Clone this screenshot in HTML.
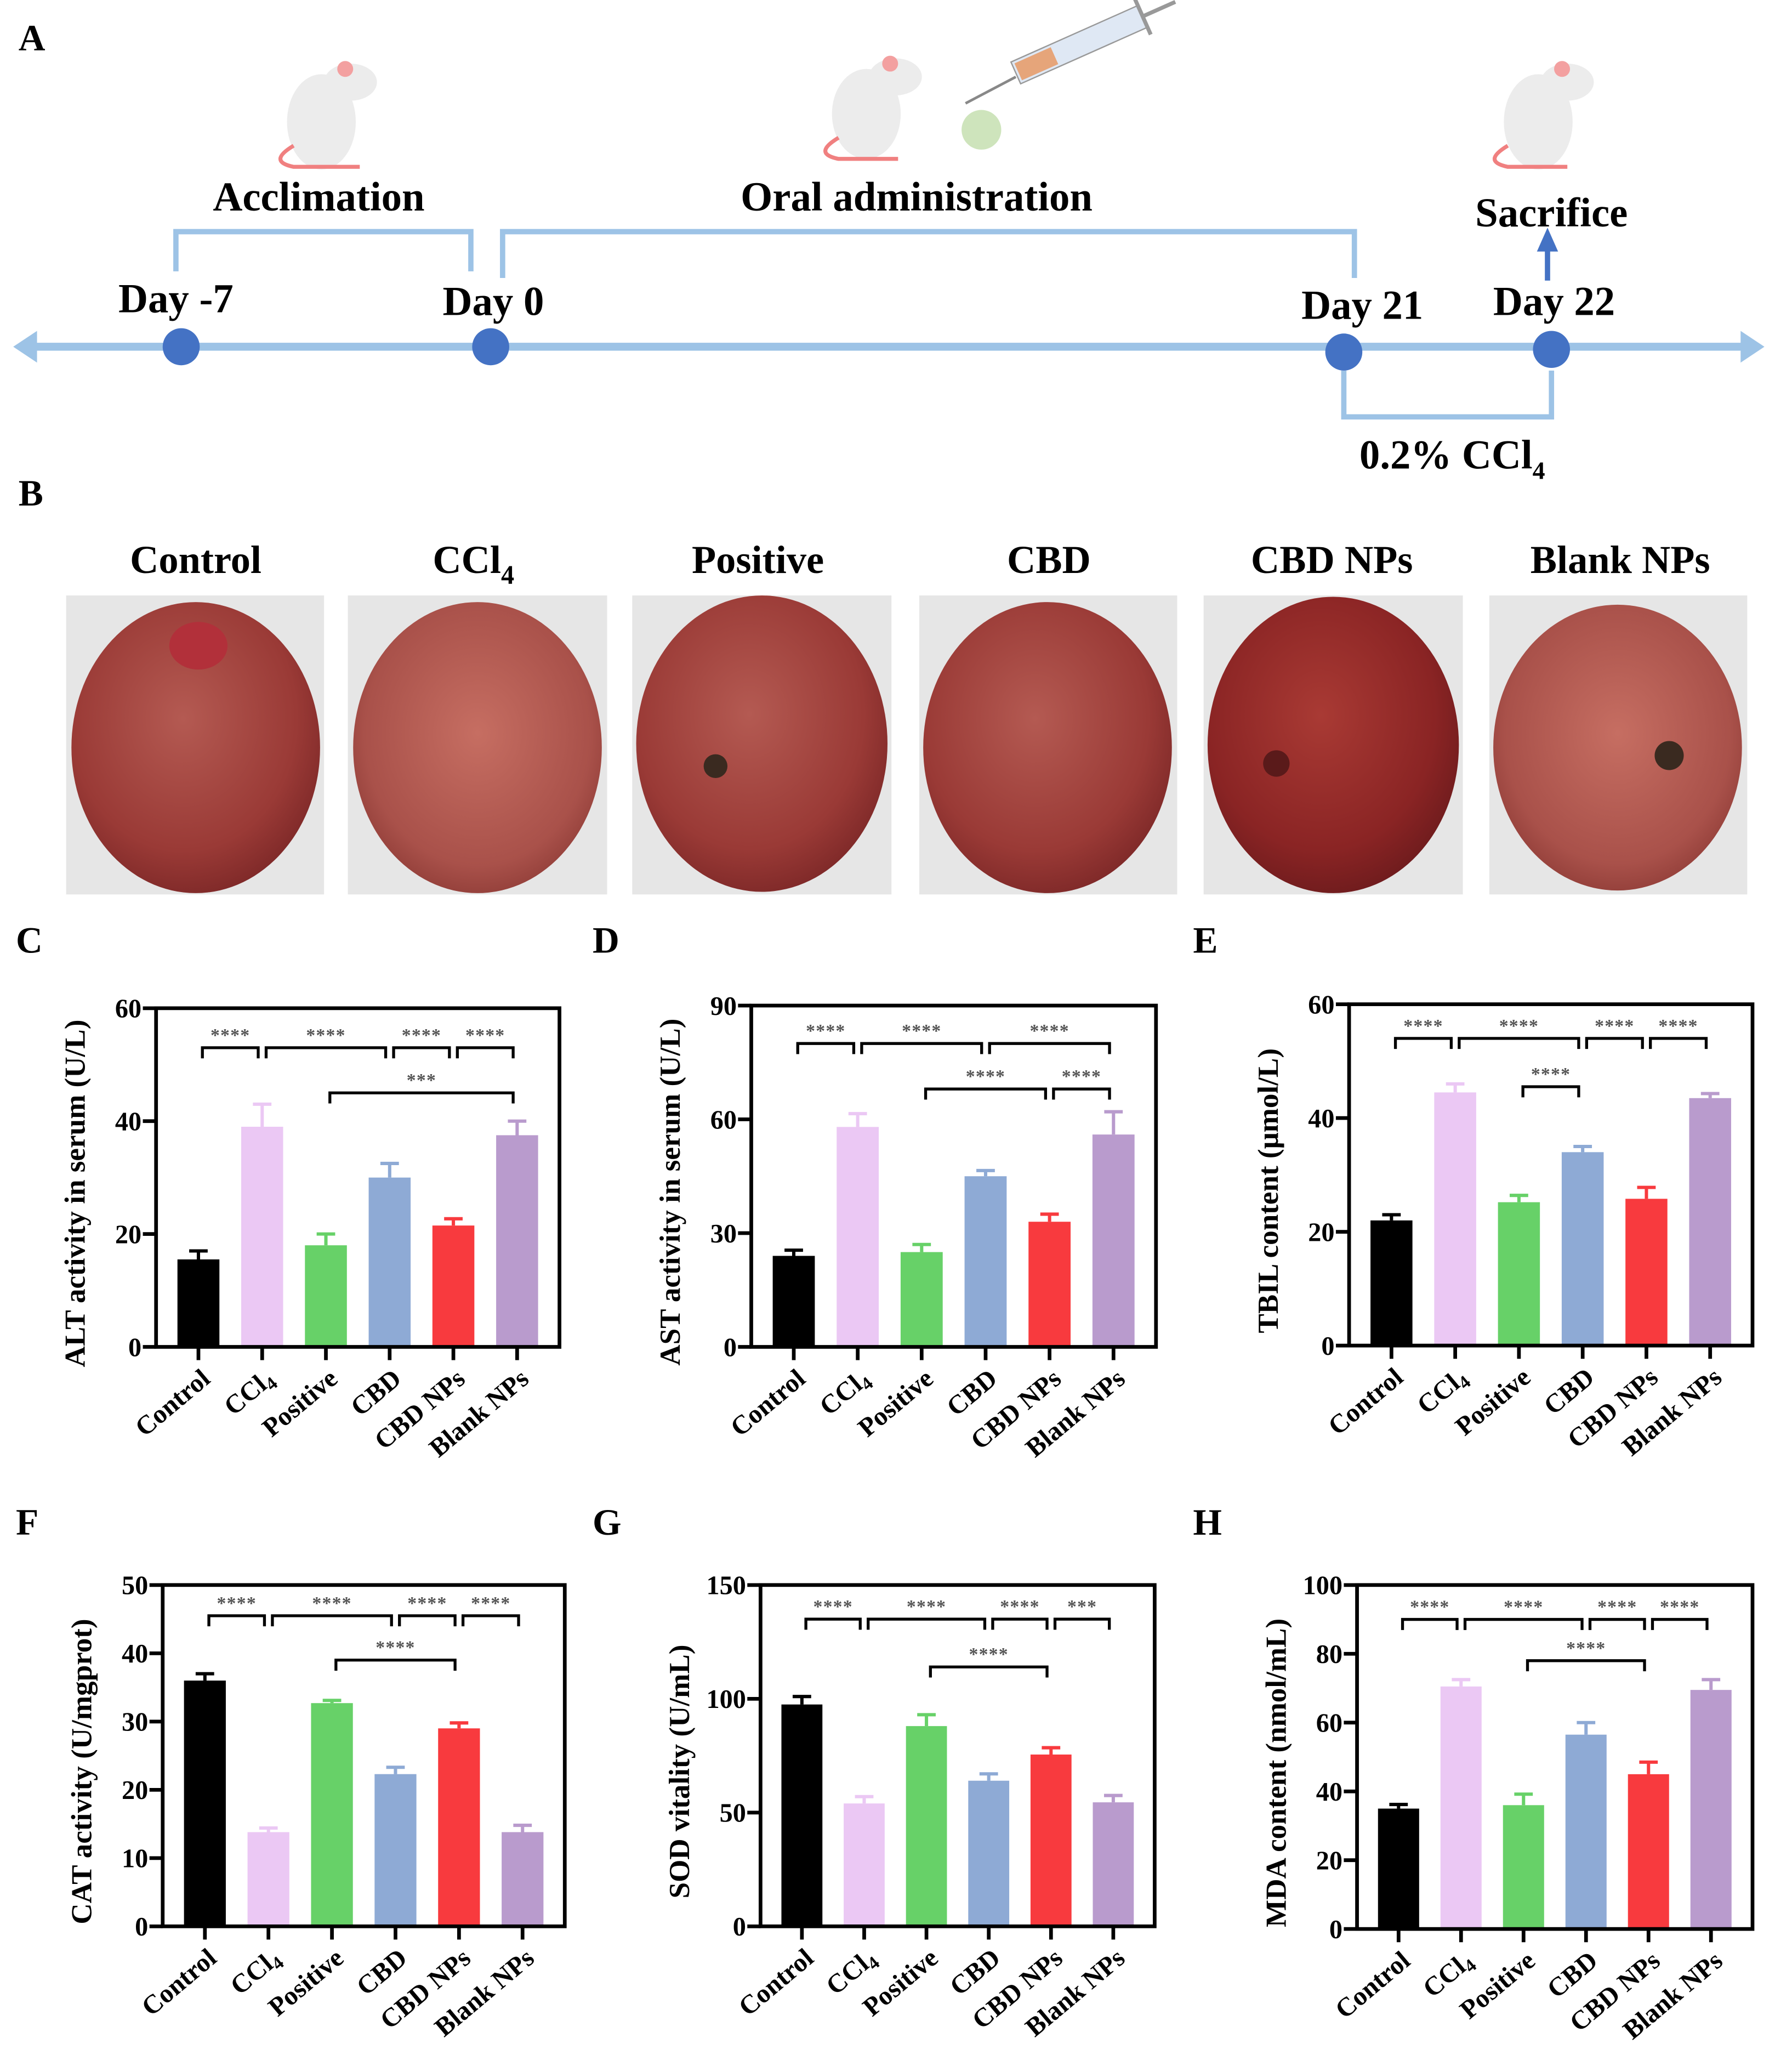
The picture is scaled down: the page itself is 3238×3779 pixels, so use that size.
<!DOCTYPE html>
<html><head><meta charset="utf-8">
<style>
html,body{margin:0;padding:0;background:#fff;}
svg{display:block;font-family:"Liberation Serif",serif;font-weight:bold;}
</style></head>
<body>
<svg id="fig" xmlns="http://www.w3.org/2000/svg" width="3238" height="3779" viewBox="0 0 1342 1566">
<defs>
<radialGradient id="liverA" cx="0.45" cy="0.4" r="0.65"><stop offset="0" stop-color="#b45a52"/><stop offset="0.7" stop-color="#9a3a36"/><stop offset="1" stop-color="#7a2626"/></radialGradient>
<radialGradient id="liverB" cx="0.5" cy="0.45" r="0.65"><stop offset="0" stop-color="#c66e62"/><stop offset="0.7" stop-color="#a9514a"/><stop offset="1" stop-color="#83322e"/></radialGradient>
<radialGradient id="liverC" cx="0.45" cy="0.4" r="0.65"><stop offset="0" stop-color="#a93a34"/><stop offset="0.7" stop-color="#8a2424"/><stop offset="1" stop-color="#6a1a1c"/></radialGradient>
</defs>
<rect width="1342" height="1566" fill="#fff"/>

<!-- Panel A timeline -->
<g>
<text x="14" y="38" font-size="28">A</text>
<line x1="22" y1="262" x2="1322" y2="262" stroke="#9dc3e6" stroke-width="6"/>
<polygon points="10,262 28,250 28,274" fill="#9dc3e6"/>
<polygon points="1334,262 1316,250 1316,274" fill="#9dc3e6"/>
<path d="M133,205 V175 H356 V205" fill="none" stroke="#9dc3e6" stroke-width="4"/>
<path d="M380,210 V175 H1024 V210" fill="none" stroke="#9dc3e6" stroke-width="4"/>
<path d="M1016,280 V315 H1173 V280" fill="none" stroke="#9dc3e6" stroke-width="4"/>
<line x1="1170" y1="212" x2="1170" y2="188" stroke="#4472c4" stroke-width="4"/>
<polygon points="1170,172 1162,190 1178,190" fill="#4472c4"/>
<circle cx="137" cy="262" r="14" fill="#4472c4"/>
<circle cx="371" cy="262" r="14" fill="#4472c4"/>
<circle cx="1016" cy="266" r="14" fill="#4472c4"/>
<circle cx="1173" cy="264" r="14" fill="#4472c4"/>
<g font-size="31" text-anchor="middle">
<text x="133" y="236">Day -7</text>
<text x="373" y="238">Day 0</text>
<text x="1030" y="241">Day 21</text>
<text x="1175" y="238">Day 22</text>
<text x="241" y="159">Acclimation</text>
<text x="693" y="159">Oral administration</text>
<text x="1173" y="171">Sacrifice</text>
<text x="1098" y="354">0.2% CCl<tspan font-size="19" dy="8">4</tspan></text>
</g>
<!-- mice -->
<g>
<ellipse cx="243" cy="92" rx="26" ry="36" fill="#ececec"/><ellipse cx="265" cy="62" rx="20" ry="14" fill="#ececec"/><circle cx="261" cy="52" r="6" fill="#f3a0a0"/>
<path d="M222,110 q-20,12 0,16 h50" fill="none" stroke="#f08080" stroke-width="3"/>
</g>
<g>
<ellipse cx="655" cy="86" rx="26" ry="34" fill="#ececec"/><ellipse cx="677" cy="58" rx="20" ry="14" fill="#ececec"/><circle cx="673" cy="48" r="6" fill="#f3a0a0"/>
<path d="M634,104 q-20,12 0,16 h45" fill="none" stroke="#f08080" stroke-width="3"/>
<circle cx="742" cy="98" r="15" fill="#b9d8a0" opacity="0.7"/>
</g>
<g>
<line x1="730" y1="78" x2="768" y2="58" stroke="#888" stroke-width="2"/>
<g transform="rotate(-24 768 55)">
<rect x="768" y="46" width="105" height="18" fill="#dfe8f4" stroke="#999"/>
<rect x="770" y="48" width="30" height="14" fill="#e6a57a"/>
<line x1="873" y1="40" x2="873" y2="70" stroke="#999" stroke-width="3"/>
<line x1="873" y1="55" x2="900" y2="55" stroke="#999" stroke-width="3"/>
</g>
</g>
<g>
<ellipse cx="1163" cy="92" rx="26" ry="36" fill="#ececec"/><ellipse cx="1185" cy="62" rx="20" ry="14" fill="#ececec"/><circle cx="1181" cy="52" r="6" fill="#f3a0a0"/>
<path d="M1140,110 q-20,12 0,16 h45" fill="none" stroke="#f08080" stroke-width="3"/>
</g>
</g>

<!-- Panel B photos -->
<g>
<text x="14" y="382" font-size="28">B</text>
<g font-size="30" text-anchor="middle">
<text x="148" y="433">Control</text>
<text x="358" y="433">CCl<tspan font-size="20" dy="8">4</tspan></text>
<text x="573" y="433">Positive</text>
<text x="793" y="433">CBD</text>
<text x="1007" y="433">CBD NPs</text>
<text x="1225" y="433">Blank NPs</text>
</g>
<g><rect x="50" y="450" width="195" height="226" fill="#e6e6e6"/><ellipse cx="148" cy="565" rx="94" ry="110" fill="url(#liverA)"/><ellipse cx="150" cy="488" rx="22" ry="18" fill="#b2303a"/></g>
<g><rect x="263" y="450" width="196" height="226" fill="#e6e6e6"/><ellipse cx="361" cy="565" rx="94" ry="110" fill="url(#liverB)"/></g>
<g><rect x="478" y="450" width="196" height="226" fill="#e6e6e6"/><ellipse cx="576" cy="562" rx="95" ry="112" fill="url(#liverA)"/><circle cx="541" cy="579" r="9" fill="#3a2a20"/></g>
<g><rect x="695" y="450" width="195" height="226" fill="#e6e6e6"/><ellipse cx="792" cy="565" rx="94" ry="110" fill="url(#liverA)"/></g>
<g><rect x="910" y="450" width="196" height="226" fill="#e6e6e6"/><ellipse cx="1008" cy="563" rx="95" ry="112" fill="url(#liverC)"/><circle cx="965" cy="577" r="10" fill="#5a1a1a"/></g>
<g><rect x="1126" y="450" width="195" height="226" fill="#e6e6e6"/><ellipse cx="1223" cy="565" rx="94" ry="108" fill="url(#liverB)"/><circle cx="1262" cy="571" r="11" fill="#3a2a20"/></g>
</g>

<g id="charts"></g>
</svg>
<script>
const categories = ["Control", "CCl4", "Positive", "CBD", "CBD NPs", "Blank NPs"];
const barColors = ["#000000", "#ebc8f4", "#67d168", "#8eaad5", "#f83a3e", "#b99bcd"];

const altValues = [15.5, 39, 18, 30, 21.5, 37.5];
const altErrors = [1.5, 4, 2, 2.5, 1.2, 2.5];
const altTicks = [0, 20, 40, 60];
const altSig = [[0,1,53,"****"],[1,3,53,"****"],[3,4,53,"****"],[4,5,53,"****"],[2,5,45,"***"]];

const astValues = [24, 58, 25, 45, 33, 56];
const astErrors = [1.5, 3.5, 2, 1.5, 2, 6];
const astTicks = [0, 30, 60, 90];
const astSig = [[0,1,80,"****"],[1,3,80,"****"],[3,5,80,"****"],[2,4,68,"****"],[4,5,68,"****"]];

const tbilValues = [22, 44.5, 25.2, 34, 25.8, 43.5];
const tbilErrors = [1, 1.5, 1.2, 1, 2, 0.8];
const tbilTicks = [0, 20, 40, 60];
const tbilSig = [[0,1,54,"****"],[1,3,54,"****"],[3,4,54,"****"],[4,5,54,"****"],[2,3,45.5,"****"]];

const catValues = [36, 13.8, 32.7, 22.3, 29, 13.8];
const catErrors = [1, 0.6, 0.4, 1, 0.8, 1];
const catTicks = [0, 10, 20, 30, 40, 50];
const catSig = [[0,1,45.5,"****"],[1,3,45.5,"****"],[3,4,45.5,"****"],[4,5,45.5,"****"],[2,4,39,"****"]];

const sodValues = [97.5, 54, 88, 64, 75.5, 54.5];
const sodErrors = [3.5, 3, 5, 3, 3, 3];
const sodTicks = [0, 50, 100, 150];
const sodSig = [[0,1,135,"****"],[1,3,135,"****"],[3,4,135,"****"],[4,5,135,"***"],[2,4,114,"****"]];

const mdaValues = [35, 70.5, 36, 56.5, 45, 69.5];
const mdaErrors = [1.2, 2, 3.2, 3.5, 3.5, 3];
const mdaTicks = [0, 20, 40, 60, 80, 100];
const mdaSig = [[0,1,90,"****"],[1,3,90,"****"],[3,4,90,"****"],[4,5,90,"****"],[2,4,78,"****"]];

const NS = "http://www.w3.org/2000/svg";
const root = document.getElementById("charts");
function mk(tag, attrs, parent){ const e=document.createElementNS(NS,tag); for(const k in attrs) e.setAttribute(k,attrs[k]); (parent||root).appendChild(e); return e; }

function drawChart(id, letter, lx, ly, box, ticks, values, errors, sig, title){
  const g = mk("g", {});
  
  
  const L=box[0], R=box[1], T=box[2], B=box[3], W=R-L;
  const ymax = ticks[ticks.length-1];
  const y = v => B - (v/ymax)*(B-T);
  const xc = i => L + W*(0.105 + i*0.158);
  const bw = W*0.104;
  const pl = mk("text", {x:lx, y:ly, "font-size":28}, g); pl.textContent = letter;
  
  
  values.forEach((v,i)=>{
    const c = barColors[i];
    const r = mk("rect", {x:xc(i)-bw/2, y:y(v), width:bw, height:B-y(v), fill:c}, g);
    
    
    const e = mk("path", {d:`M${xc(i)},${y(v)} V${y(v+errors[i])} M${xc(i)-7},${y(v+errors[i])} H${xc(i)+7}`, stroke:c, "stroke-width":2.5, fill:"none"}, g);
    
    
  });
  const fr = mk("rect", {x:L, y:T, width:W, height:B-T, fill:"none", stroke:"#000", "stroke-width":2.8}, g);
  
  
  ticks.forEach(t=>{
    mk("line", {x1:L-10, x2:L, y1:y(t), y2:y(t), stroke:"#000", "stroke-width":2.8}, g);
    const tl = mk("text", {x:L-11, y:y(t)+7, "font-size":20, "text-anchor":"end"}, g);
    tl.textContent = t;
    
    
  });
  categories.forEach((c,i)=>{
    mk("line", {x1:xc(i), x2:xc(i), y1:B, y2:B+10, stroke:"#000", "stroke-width":2.8}, g);
    const tx = mk("text", {x:0, y:0, "font-size":20, "text-anchor":"end", transform:`translate(${xc(i)+10},${B+26}) rotate(-40)`}, g);
    if(c==="CCl4"){ tx.textContent="CCl"; const s=mk("tspan",{"font-size":14,dy:4},tx); s.textContent="4"; }
    else tx.textContent = c;
    
    
  });
  const yt = mk("text", {x:0, y:0, "font-size":22, "text-anchor":"middle", transform:`translate(${L-54},${(T+B)/2+12}) rotate(-90)`}, g);
  yt.textContent = title;
  
  
  sig.forEach(s=>{
    const x1 = xc(s[0])+3, x2 = xc(s[1])-3, yy = y(s[2]);
    const br = mk("path", {d:`M${x1},${yy+8} V${yy} H${x2} V${yy+8}`, stroke:"#000", "stroke-width":2.2, fill:"none"}, g);
    
    
    const st = mk("text", {x:(x1+x2)/2, y:yy-5, "font-size":14, fill:"#555", "text-anchor":"middle", "letter-spacing":"0.5"}, g);
    st.textContent = s[3];
    
    
  });
}

drawChart("alt","C",12,720,[118,423,762,1018],altTicks,altValues,altErrors,altSig,"ALT activity in serum (U/L)");
drawChart("ast","D",448,720,[568,874,760,1018],astTicks,astValues,astErrors,astSig,"AST activity in serum (U/L)");
drawChart("tbil","E",902,720,[1020,1325,759,1017],tbilTicks,tbilValues,tbilErrors,tbilSig,"TBIL content (\u03bcmol/L)");
drawChart("cat","F",12,1160,[123,427,1198,1456],catTicks,catValues,catErrors,catSig,"CAT activity (U/mgprot)");
drawChart("sod","G",448,1160,[575,873,1198,1456],sodTicks,sodValues,sodErrors,sodSig,"SOD vitality (U/mL)");
drawChart("mda","H",902,1160,[1026,1325,1198,1458],mdaTicks,mdaValues,mdaErrors,mdaSig,"MDA content (nmol/mL)");
</script>
</body></html>
